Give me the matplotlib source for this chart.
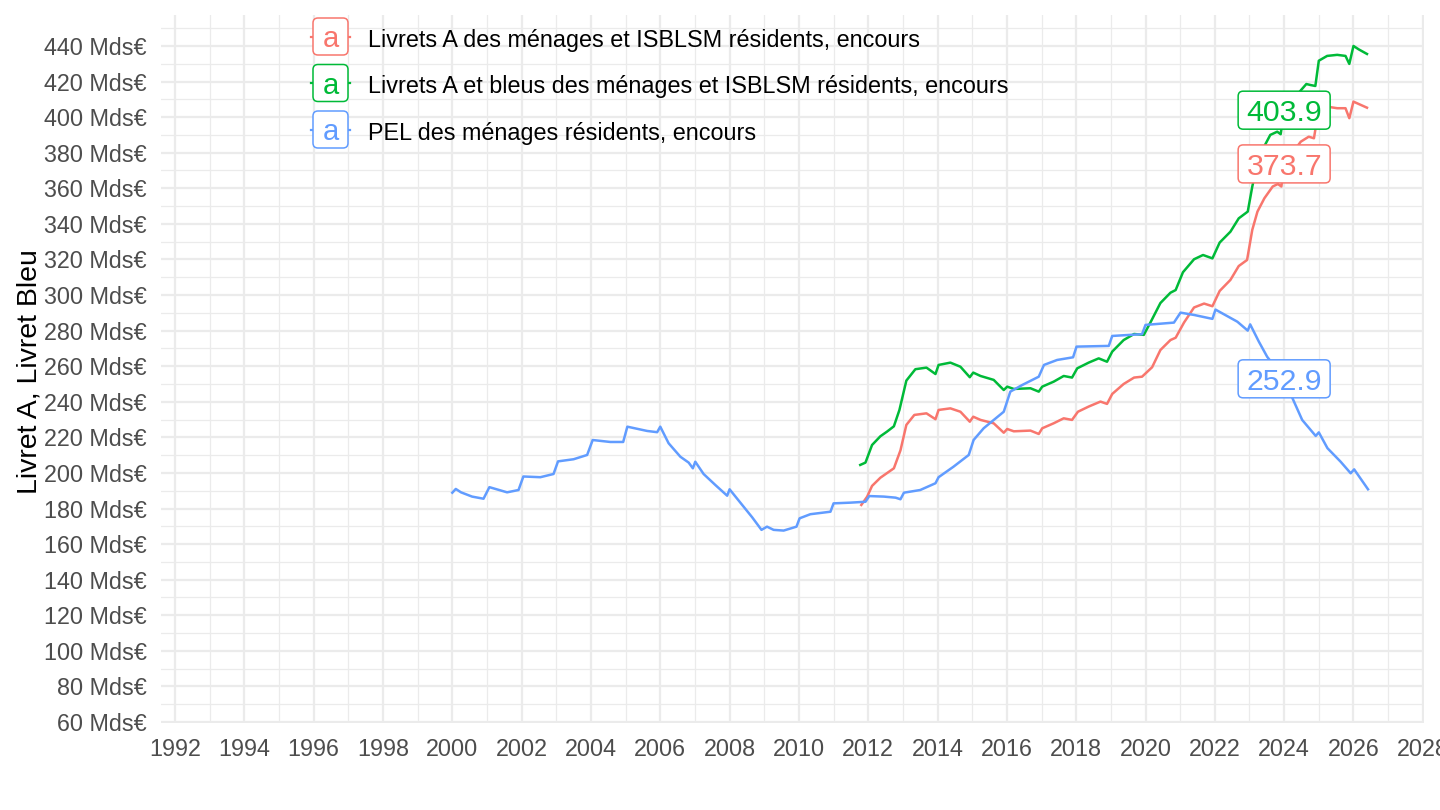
import numpy as np
import matplotlib.pyplot as plt
import matplotlib.transforms as mtransforms
from matplotlib.patches import FancyBboxPatch

plt.rcParams['font.family'] = ['Liberation Sans', 'DejaVu Sans']

# Data (decimal years, Mds€)
livret_a_dates = [2011.8, 2011.97, 2012.11, 2012.35, 2012.74, 2012.93, 2013.1, 2013.33, 2013.68, 2013.94,
                  2014.03, 2014.37, 2014.66, 2014.93, 2015.03, 2015.24, 2015.62, 2015.91, 2016.01, 2016.2,
                  2016.68, 2016.92, 2017.02, 2017.35, 2017.64, 2017.88, 2018.05, 2018.36, 2018.7, 2018.89,
                  2019.04, 2019.37, 2019.67, 2019.9, 2020.19, 2020.43, 2020.72, 2020.87, 2021.11, 2021.4,
                  2021.69, 2021.93, 2022.14, 2022.45, 2022.69, 2022.93, 2023.08, 2023.23, 2023.43, 2023.67,
                  2023.82, 2023.92, 2024.0, 2024.48, 2024.71, 2024.86, 2025.0, 2025.24, 2025.53, 2025.77,
                  2025.88, 2026.0, 2026.39]
livret_a_values = [182.0, 186.7, 192.7, 197.3, 202.6, 212.7, 227.0, 232.6, 233.5, 230.2,
                   235.4, 236.3, 234.4, 228.8, 231.6, 229.8, 227.9, 222.6, 224.7, 223.4,
                   223.8, 221.9, 225.1, 227.9, 230.7, 229.8, 234.4, 237.3, 240.1, 238.8,
                   244.4, 250.0, 253.6, 254.1, 259.4, 269.1, 274.7, 276.0, 284.5, 293.0,
                   295.2, 293.7, 302.3, 308.5, 316.3, 319.7, 336.6, 346.9, 354.4, 361.0,
                   362.4, 361.0, 373.7, 386.2, 389.0, 388.1, 405.0, 405.9, 405.0, 405.0,
                   399.4, 408.7, 405.3]

livret_ab_dates = [2011.77, 2011.92, 2012.11, 2012.35, 2012.54, 2012.74, 2012.9, 2013.1, 2013.36, 2013.68,
                   2013.94, 2014.03, 2014.37, 2014.66, 2014.93, 2015.03, 2015.24, 2015.62, 2015.91, 2016.01,
                   2016.2, 2016.68, 2016.92, 2017.02, 2017.35, 2017.64, 2017.88, 2018.03, 2018.36, 2018.65,
                   2018.89, 2019.04, 2019.37, 2019.67, 2019.95, 2020.14, 2020.43, 2020.72, 2020.87, 2021.08,
                   2021.4, 2021.66, 2021.93, 2022.14, 2022.45, 2022.69, 2022.95, 2023.08, 2023.27, 2023.6,
                   2023.8, 2023.9, 2024.0, 2024.47, 2024.64, 2024.77, 2024.9, 2025.0, 2025.24, 2025.53,
                   2025.77, 2025.88, 2026.0, 2026.15, 2026.39]
livret_ab_values = [204.5, 205.8, 215.7, 220.6, 223.2, 226.2, 235.4, 251.9, 258.3, 259.2,
                    255.6, 260.7, 262.0, 259.7, 253.8, 256.4, 254.5, 252.3, 246.6, 248.5,
                    247.2, 247.6, 245.7, 248.5, 251.3, 254.5, 253.6, 258.8, 262.0, 264.4,
                    262.5, 268.2, 274.7, 278.1, 277.6, 284.5, 295.5, 301.3, 302.8, 312.8,
                    320.1, 322.5, 320.6, 329.5, 335.6, 343.1, 346.9, 360.9, 377.8, 390.0,
                    391.8, 390.4, 403.9, 414.8, 418.6, 418.0, 417.5, 431.7, 434.4, 435.0,
                    434.4, 429.9, 440.0, 438.1, 435.5]

pel_dates = [2000.0, 2000.1, 2000.25, 2000.57, 2000.9, 2001.07, 2001.58, 2001.91, 2002.05, 2002.54,
             2002.92, 2003.05, 2003.5, 2003.89, 2004.05, 2004.56, 2004.93, 2005.05, 2005.62, 2005.91,
             2006.0, 2006.24, 2006.58, 2006.82, 2006.94, 2007.01, 2007.25, 2007.59, 2007.93, 2008.0,
             2008.31, 2008.65, 2008.92, 2009.08, 2009.27, 2009.56, 2009.93, 2010.02, 2010.33, 2010.91,
             2011.0, 2011.49, 2011.92, 2012.03, 2012.45, 2012.79, 2012.93, 2013.03, 2013.5, 2013.94,
             2014.03, 2014.46, 2014.9, 2015.04, 2015.33, 2015.91, 2016.1, 2016.44, 2016.92, 2017.07,
             2017.45, 2017.91, 2018.01, 2018.94, 2019.04, 2019.9, 2020.0, 2020.82, 2021.01, 2021.4,
             2021.93, 2022.02, 2022.65, 2022.95, 2023.02, 2023.27, 2023.51, 2024.0, 2024.24, 2024.52,
             2024.91, 2025.0, 2025.25, 2025.63, 2025.92, 2026.02, 2026.42]
pel_values = [188.9, 191.0, 189.1, 186.7, 185.5, 192.0, 189.1, 190.4, 198.0, 197.6,
              199.4, 206.5, 207.7, 210.1, 218.5, 217.4, 217.4, 226.0, 223.6, 222.9,
              226.0, 216.7, 209.1, 205.8, 202.6, 206.3, 199.4, 193.2, 187.2, 190.8,
              183.3, 175.1, 168.0, 169.8, 168.0, 167.6, 169.8, 174.5, 176.8, 178.2,
              182.9, 183.3, 183.8, 187.0, 186.7, 186.1, 185.2, 188.9, 190.4, 194.2,
              197.6, 203.5, 210.1, 218.5, 225.1, 234.4, 245.7, 249.4, 254.1, 260.7,
              263.5, 265.0, 271.0, 271.4, 277.0, 278.0, 283.2, 284.5, 290.1, 288.8,
              286.6, 291.8, 285.0, 280.0, 283.5, 273.8, 265.3, 252.9, 242.0, 229.8,
              220.8, 222.8, 213.9, 206.3, 199.8, 202.0, 190.8]

series_names = ["Livrets A des ménages et ISBLSM résidents, encours",
                "Livrets A et bleus des ménages et ISBLSM résidents, encours",
                "PEL des ménages résidents, encours"]
series_dates = [livret_a_dates, livret_ab_dates, pel_dates]
series_values = [livret_a_values, livret_ab_values, pel_values]
colors = ['#F8766D', '#00BA38', '#619CFF']
label_date = 2024.0

W, H = 1440, 810
fig = plt.figure(figsize=(W / 100, H / 100), dpi=100)
ax = fig.add_axes([161 / W, 1 - 723 / H, (1424 - 161) / W, (723 - 15) / H])
ax.set_xlim(1991.595, 2028.035)
ax.set_ylim(59.44, 457.4)

ax.set_xticks(np.arange(1992, 2029, 2))
ax.set_xticks(np.arange(1993, 2028, 2), minor=True)
ax.set_yticks(np.arange(60, 441, 20))
ax.set_yticks(np.arange(70, 451, 20), minor=True)
ax.set_yticklabels([f'{v} Mds€' for v in range(60, 441, 20)])
ax.grid(which='major', color='#EBEBEB', lw=1.6)
ax.grid(which='minor', color='#EBEBEB', lw=0.9)
ax.set_axisbelow(True)
ax.tick_params(which='both', length=0, labelsize=16.8, labelcolor='#4D4D4D')
ax.tick_params(axis='y', pad=10)
ax.tick_params(axis='x', pad=11)
for s in ax.spines.values():
    s.set_visible(False)

for d, v, c in zip(series_dates, series_values, colors):
    ax.plot(d, v, color=c, lw=1.8)

fig.text(29 / W, 1 - 372 / H, 'Livret A, Livret Bleu', rotation=90,
         ha='center', va='center', fontsize=20.5, color='black')

ident = mtransforms.IdentityTransform()

# value labels at label_date
bw, bh = 92, 38
for d, v, c in zip(series_dates, series_values, colors):
    val = float(np.interp(label_date, d, v))
    cx, cy = ax.transData.transform((label_date, val))
    box = FancyBboxPatch((cx - bw / 2, cy - bh / 2), bw, bh,
                         boxstyle='round,pad=0,rounding_size=5',
                         fc='white', ec=c, lw=1.1, transform=ident, zorder=5)
    fig.add_artist(box)
    fig.text(cx, cy - 0.716 * 30 / 2, f'{val:.1f}', transform=ident,
             ha='center', va='baseline', fontsize=21.8, color=c, zorder=6)

# legend
for i, (name, c) in enumerate(zip(series_names, colors)):
    cy = H - (36.5 + 46.5 * i)
    fig.add_artist(plt.Line2D([311, 350], [cy, cy], color=c, lw=1.6, transform=ident, zorder=4))
    key = FancyBboxPatch((313, cy - 18.5), 35, 37, boxstyle='round,pad=0,rounding_size=5',
                         fc='white', ec=c, lw=1.1, transform=ident, zorder=5)
    fig.add_artist(key)
    fig.text(330.5, cy - 10.5, 'a', transform=ident, ha='center', va='baseline',
             fontsize=21, color=c, zorder=6)
    fig.text(368, cy - 10.5, name, transform=ident, ha='left', va='baseline',
             fontsize=16.8, color='black', zorder=6)

fig.savefig('out.png', dpi=100)
